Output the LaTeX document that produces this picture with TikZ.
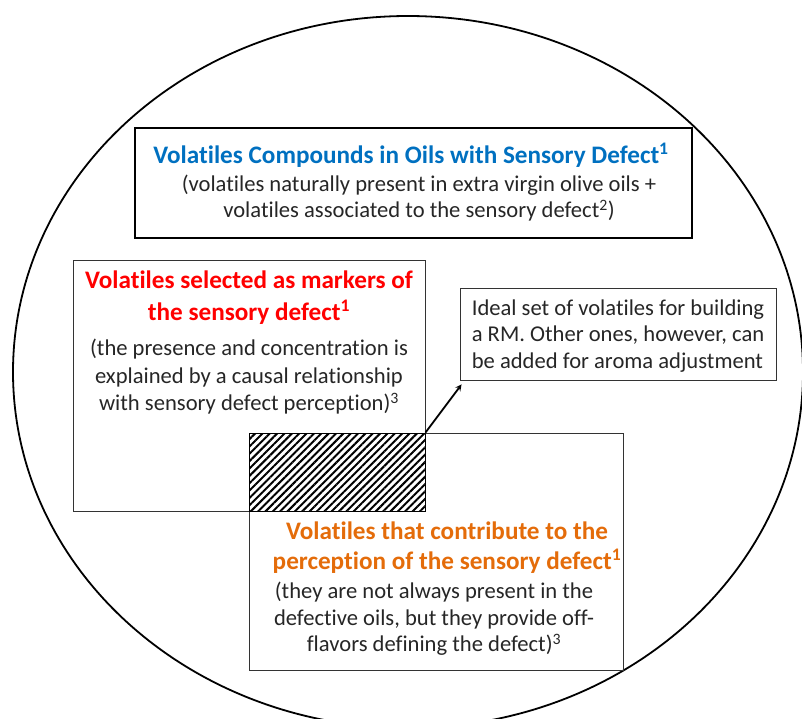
\documentclass[tikz,border=0pt]{standalone}
\usepackage{fontspec}
\setmainfont{Carlito}[RawFeature={-liga;-clig}]
\usetikzlibrary{patterns.meta}
\definecolor{titleblue}{HTML}{0070C0}
\definecolor{titlered}{HTML}{FF0000}
\definecolor{titleorange}{HTML}{E46C0A}
\definecolor{bodygrey}{HTML}{262626}
\tikzset{
  thinbox/.style={draw=black!80, line width=0.9pt, minimum width=#1},
  bodytext/.style={text=bodygrey, align=center, font=\fontsize{22.6}{26.5}\selectfont},
  headtext/.style={align=center, font=\fontsize{25.2}{32}\selectfont\bfseries}
}
\begin{document}
\begin{tikzpicture}[x=1pt, y=-1pt]
            \useasboundingbox (0,0) rectangle (802,718);
            \draw[line width=1.8pt] (408,372) ellipse (395pt and 356pt);

            \node[draw, line width=2.6pt, minimum width=557pt, minimum height=110pt] (defectbox) at (413.5,183) {};
            \node[text=titleblue, headtext] (defecttitle) at (411,155) {Volatiles Compounds in Oils with Sensory Defect\textsuperscript{1}};
            \node[bodytext] (defecttext) at (419,198) {(volatiles naturally present in extra virgin olive oils +\\volatiles associated to the sensory defect\textsuperscript{2})};

            \node[thinbox=352pt, minimum height=251pt] (markerbox) at (249,385.5) {};
            \node[text=titlered, headtext] (markertitle) at (249,298) {Volatiles selected as markers of\\the sensory defect\textsuperscript{1}};
            \node[bodytext, font=\fontsize{22.6}{27.5}\selectfont] (markertext) at (249,377) {(the presence and concentration is\\explained by a causal relationship\\with sensory defect perception)\textsuperscript{3}};

            \node[thinbox=374pt, minimum height=237pt] (perceptbox) at (436,551.5) {};
            \node[pattern={Lines[angle=45, distance=5.2pt, line width=2pt]}, draw, line width=0.9pt, minimum width=176pt, minimum height=78pt] (overlap) at (337,472) {};
            \node[text=titleorange, headtext, font=\fontsize{25.2}{30}\selectfont\bfseries] (percepttitle) at (447,548) {Volatiles that contribute to the\\perception of the sensory defect\textsuperscript{1}};
            \node[bodytext, font=\fontsize{22.6}{26.5}\selectfont] (percepttext) at (434,619) {(they are not always present in the\\defective oils, but they provide off-\\flavors defining the defect)\textsuperscript{3}};

            \node[thinbox=316pt, minimum height=92pt] (idealbox) at (618,334) {};
            \node[bodytext, align=left] (idealtext) at (618,336) {Ideal set of volatiles for building\\a RM. Other ones, however, can\\be added for aroma adjustment};

            \draw[-stealth, line width=1.8pt] (overlap.north east) -- ([xshift=2pt, yshift=-4pt]idealbox.south west);
\end{tikzpicture}
\end{document}
